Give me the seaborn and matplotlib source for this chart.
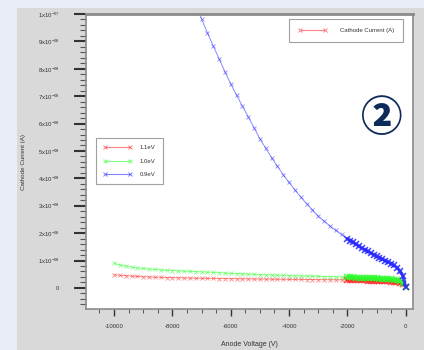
import numpy as np
import pandas as pd
import matplotlib
matplotlib.use("Agg")
import matplotlib.pyplot as plt
from matplotlib.lines import Line2D
from matplotlib.patches import Rectangle
from matplotlib.ticker import MultipleLocator
import seaborn as sns

# ---------------- data (current in units of 1e-8 A) ----------------
v_coarse = [-10000, -9800, -9600, -9400, -9200, -9000, -8800, -8600, -8400, -8200,
            -8000, -7800, -7600, -7400, -7200, -7000, -6800, -6600, -6400, -6200,
            -6000, -5800, -5600, -5400, -5200, -5000, -4800, -4600, -4400, -4200,
            -4000, -3800, -3600, -3400, -3200, -3000, -2800, -2600, -2400, -2200]
v_fine = [-2000, -1900, -1800, -1700, -1600, -1500, -1400, -1300, -1200, -1100,
          -1000, -900, -800, -700, -600, -500, -400, -300, -200, -100, 0]

red_11ev = [0.48, 0.46, 0.45, 0.43, 0.42, 0.41, 0.40, 0.39, 0.385, 0.38,
            0.375, 0.37, 0.365, 0.36, 0.355, 0.35, 0.35, 0.345, 0.34, 0.34,
            0.335, 0.335, 0.33, 0.33, 0.325, 0.325, 0.32, 0.32, 0.315, 0.315,
            0.31, 0.31, 0.31, 0.305, 0.305, 0.30, 0.30, 0.30, 0.295, 0.295,
            0.29, 0.29, 0.285, 0.285, 0.28, 0.28, 0.275, 0.27, 0.27, 0.265,
            0.26, 0.255, 0.25, 0.245, 0.24, 0.23, 0.22, 0.20, 0.18, 0.14, 0.03]

green_10ev = [0.90, 0.84, 0.80, 0.76, 0.73, 0.71, 0.69, 0.675, 0.66, 0.645,
              0.635, 0.625, 0.615, 0.605, 0.595, 0.585, 0.575, 0.565, 0.555, 0.545,
              0.535, 0.525, 0.515, 0.505, 0.495, 0.485, 0.478, 0.47, 0.463, 0.456,
              0.45, 0.444, 0.438, 0.432, 0.426, 0.42, 0.415, 0.41, 0.405, 0.40,
              0.395, 0.39, 0.385, 0.38, 0.375, 0.37, 0.365, 0.36, 0.355, 0.35,
              0.345, 0.34, 0.335, 0.33, 0.325, 0.315, 0.30, 0.28, 0.24, 0.17, 0.04]

v_blue_coarse = [-7200, -7000, -6800, -6600, -6400, -6200, -6000, -5800, -5600, -5400,
                 -5200, -5000, -4800, -4600, -4400, -4200, -4000, -3800, -3600, -3400,
                 -3200, -3000, -2800, -2600, -2400, -2200]
blue_09ev = [10.35, 9.82, 9.32, 8.84, 8.37, 7.90, 7.45, 7.04, 6.64, 6.25,
             5.85, 5.45, 5.10, 4.76, 4.44, 4.14, 3.85, 3.58, 3.32, 3.08,
             2.85, 2.62, 2.44, 2.26, 2.10, 1.95,
             1.80, 1.73, 1.66, 1.59, 1.52, 1.45, 1.39, 1.33, 1.27, 1.21,
             1.15, 1.10, 1.05, 1.00, 0.95, 0.89, 0.82, 0.74, 0.62, 0.45, 0.05]

series_names = ["1.1eV", "1.0eV", "0.9eV"]
series_colors = ["#ff2a2a", "#2aff2a", "#2a2aff"]
x_ticks = [-10000, -8000, -6000, -4000, -2000, 0]
y_ticks = [0, 1, 2, 3, 4, 5, 6, 7, 8, 9, 10]
y_tick_labels = ["0"] + [f"{k}x10$^{{\\mathregular{{-08}}}}$" for k in range(1, 10)] \
    + ["1x10$^{\\mathregular{-07}}$"]
legend1_label = "Cathode Current (A)"

# ---------------- build table ----------------
rows = []
for name, vs, cur in [(series_names[0], v_coarse + v_fine, red_11ev),
                      (series_names[1], v_coarse + v_fine, green_10ev),
                      (series_names[2], v_blue_coarse + v_fine, blue_09ev)]:
    for v, i in zip(vs, cur):
        rows.append((name, v, i * 1e-8, v >= -2000))
df = pd.DataFrame(rows, columns=["series", "V", "I", "fine"])
pal = dict(zip(series_names, series_colors))

# ---------------- figure ----------------
sns.set_style("white")
plt.rcParams["font.family"] = ["Liberation Sans", "DejaVu Sans"]

fig = plt.figure(figsize=(4.24, 3.5), dpi=100)
fig.patch.set_facecolor("#e9eef6")
panel = Rectangle((17 / 424, 0), 1 - 17 / 424, 1 - 8 / 350,
                  transform=fig.transFigure, facecolor="#d9d9d9",
                  edgecolor="none", zorder=-10)
fig.add_artist(panel)
ax = fig.add_axes([86 / 424, 1 - 309 / 350, (413 - 86) / 424, (309 - 14) / 350])
ax.set_facecolor("white")

# full sweep: thin line with small crosses
sns.lineplot(data=df, x="V", y="I", hue="series", hue_order=series_names,
             palette=pal, marker="x", markersize=2.6, markeredgewidth=0.6,
             linewidth=0.7, alpha=0.55, estimator=None, sort=False, legend=False, ax=ax)
# densely sampled end of the sweep: crosses overlap into a thick band
sns.lineplot(data=df[df["fine"]], x="V", y="I", hue="series", hue_order=series_names,
             palette=pal, marker="x", markersize=4.0, markeredgewidth=1.1,
             linewidth=2.2, alpha=0.85, estimator=None, sort=False, legend=False, ax=ax)
for ln in ax.lines:
    ln.set_markeredgecolor(ln.get_color())
    ln.set_markerfacecolor(ln.get_color())

ax.set_xlim(-10960, 250)
ax.set_ylim(-0.77e-8, 1.0e-7)
ax.set_xticks(x_ticks)
ax.set_xticklabels([str(t) for t in x_ticks])
ax.xaxis.set_minor_locator(MultipleLocator(500))
ax.set_yticks([t * 1e-8 for t in y_ticks])
ax.set_yticklabels(y_tick_labels)
ax.yaxis.set_minor_locator(MultipleLocator(0.2e-8))

ax.tick_params(axis="y", which="major", direction="out", length=9, width=1.5,
               color="#333333", labelsize=4.3, labelcolor="#333333", pad=10)
ax.tick_params(axis="y", which="minor", direction="out", length=4.5, width=0.8,
               color="#555555")
ax.tick_params(axis="x", which="major", direction="out", length=5, width=1.0,
               color="#333333", labelsize=4.3, labelcolor="#333333", pad=6)
ax.tick_params(axis="x", which="minor", direction="out", length=3, width=0.7,
               color="#555555")
ax.tick_params(left=True, bottom=True, which="both")

for s in ax.spines.values():
    s.set_color("#8a8a8a")
    s.set_linewidth(1.2)
ax.spines["top"].set_linewidth(2.0)

ax.set_xlabel("Anode Voltage (V)", fontsize=5, color="#333333")
ax.xaxis.set_label_coords(0.5, -(344 - 309) / (309 - 14), transform=ax.transAxes)
ax.xaxis.label.set_va("center")
ax.set_ylabel("Cathode Current (A)", fontsize=4.5, color="#333333")
ax.yaxis.set_label_coords(-(86 - 24) / (413 - 86), 0.5)
ax.yaxis.label.set_va("center")

# legends
h1 = [Line2D([0], [0], color="#ff8080", lw=0.8, marker="x", markersize=3,
             markeredgewidth=0.7)]
leg1 = ax.legend(h1, [legend1_label], loc="upper right",
                 bbox_to_anchor=(403 / 424, 1 - 19 / 350), bbox_transform=fig.transFigure,
                 numpoints=2, fontsize=4.3, frameon=True, fancybox=False,
                 edgecolor="#888888", handlelength=4.8, borderpad=1.5, borderaxespad=0,
                 handletextpad=2.2)
leg1.get_frame().set_linewidth(0.8)
for t in leg1.get_texts():
    t.set_color("#333333")
ax.add_artist(leg1)

h2 = [Line2D([0], [0], color=c, lw=0.8, marker="x", markersize=3,
             markeredgewidth=0.7, alpha=0.6) for c in series_colors]
leg2 = ax.legend(h2, series_names, loc="upper left",
                 bbox_to_anchor=(96 / 424, 1 - 138 / 350), bbox_transform=fig.transFigure,
                 numpoints=2, fontsize=4.3, frameon=True, fancybox=False,
                 edgecolor="#888888", handlelength=4.8, borderpad=1.2, borderaxespad=0,
                 handletextpad=1.3, labelspacing=1.35)
leg2.get_frame().set_linewidth(0.8)
for t in leg2.get_texts():
    t.set_color("#333333")

fig.text(382 / 424, 1 - 119 / 350, "②", fontsize=30, fontweight="black",
         color="#0d2a5a", ha="center", va="center",
         family=["Noto Sans CJK JP", "DejaVu Sans"])

fig.savefig("out.png", dpi=100, facecolor=fig.get_facecolor())
